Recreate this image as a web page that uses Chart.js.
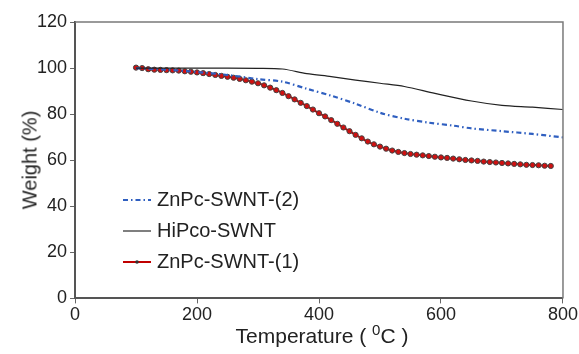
<!DOCTYPE html>
<html>
<head>
<meta charset="utf-8">
<script src="https://cdn.jsdelivr.net/npm/chart.js@4.4.1/dist/chart.umd.min.js"></script>
<style>
    html, body { margin: 0; padding: 0; background: #fff; }
    #wrap { position: relative; width: 579px; height: 354px; font-family: "Liberation Sans", Arial, sans-serif; color: #222; }
    #chart { position: absolute; left: 0; top: 0; }
    .legend { position: absolute; left: 122px; top: 184px; font-size: 20px; line-height: 31px; }
    .legend-item { display: flex; align-items: center; white-space: nowrap; }
    .legend-item canvas { margin-right: 5px; }
    .ytitle { position: absolute; left: 30px; top: 160px; font-size: 20px; transform: translate(-50%, -50%) rotate(-90deg); white-space: nowrap; }
    .xtitle { position: absolute; left: 322px; top: 334px; font-size: 21px; transform: translate(-50%, -50%); white-space: nowrap; }
    .xtitle sup { font-size: 15px; }
</style>
</head>
<body>
<div id="wrap">
    <canvas id="chart" width="579" height="354"></canvas>
    <div class="ytitle">Weight (%)</div>
    <div class="xtitle">Temperature ( <sup>0</sup>C )</div>
    <div class="legend" id="legend"></div>
</div>
<script>
// Axis ticks
const xTicks = [0, 200, 400, 600, 800];
const yTicks = [0, 20, 40, 60, 80, 100, 120];

// ZnPc-SWNT-(1): sampled every 10 C (markers)
const temp1 = [100, 110, 120, 130, 140, 150, 160, 170, 180, 190,
    200, 210, 220, 230, 240, 250, 260, 270, 280, 290,
    300, 310, 320, 330, 340, 350, 360, 370, 380, 390,
    400, 410, 420, 430, 440, 450, 460, 470, 480, 490,
    500, 510, 520, 530, 540, 550, 560, 570, 580, 590,
    600, 610, 620, 630, 640, 650, 660, 670, 680, 690,
    700, 710, 720, 730, 740, 750, 760, 770, 780];
const weight1 = [100.2, 100.0, 99.5, 99.3, 99.2, 99.1, 99.0, 98.9, 98.6, 98.4,
    98.1, 97.8, 97.4, 97.0, 96.6, 96.2, 95.8, 95.3, 94.7, 94.1,
    93.4, 92.5, 91.5, 90.4, 89.2, 87.8, 86.4, 84.9, 83.5, 82.0,
    80.4, 79.0, 77.4, 75.8, 74.2, 72.6, 71.0, 69.5, 68.1, 66.9,
    65.9, 65.0, 64.2, 63.6, 63.1, 62.7, 62.4, 62.1, 61.8, 61.5,
    61.2, 61.0, 60.7, 60.4, 60.1, 59.9, 59.7, 59.4, 59.2, 59.0,
    58.8, 58.6, 58.4, 58.2, 58.0, 57.9, 57.8, 57.6, 57.5];

// ZnPc-SWNT-(2)
const temp2 = [100, 150, 200, 250, 300, 340, 380, 420, 460, 500, 540, 580, 620, 650, 700, 750, 800];
const weight2 = [100.0, 99.3, 98.3, 97.0, 95.2, 94.1, 91.0, 88.0, 84.5, 80.6, 78.0, 76.3, 75.0, 73.8, 72.6, 71.4, 69.9];

// HiPco-SWNT
const tempH = [100, 200, 300, 340, 380, 420, 460, 500, 540, 590, 650, 700, 750, 800];
const weightH = [100.0, 100.0, 99.9, 99.6, 97.6, 96.3, 94.8, 93.4, 92.0, 89.0, 85.7, 83.8, 83.0, 82.0];

const seriesLabels = ['ZnPc-SWNT-(2)', 'HiPco-SWNT', 'ZnPc-SWNT-(1)'];

function toPoints(xs, ys) {
    return xs.map((x, i) => ({ x: x, y: ys[i] }));
}

// Frame around the plot area (top and right sides)
const framePlugin = {
    id: 'frame',
    afterDraw(chart) {
        const a = chart.chartArea;
        const ctx = chart.ctx;
        ctx.save();
        ctx.strokeStyle = '#7a7a7a';
        ctx.lineWidth = 1.5;
        ctx.beginPath();
        ctx.moveTo(a.left, a.top);
        ctx.lineTo(a.right, a.top);
        ctx.lineTo(a.right, a.bottom);
        ctx.stroke();
        ctx.restore();
    }
};

const tickFont = { family: '"Liberation Sans", Arial, sans-serif', size: 18 };

new Chart(document.getElementById('chart'), {
    type: 'line',
    data: {
        datasets: [
            {
                label: seriesLabels[1],
                data: toPoints(tempH, weightH),
                borderColor: '#222',
                borderWidth: 1.2,
                pointRadius: 0,
                tension: 0.3
            },
            {
                label: seriesLabels[0],
                data: toPoints(temp2, weight2),
                borderColor: '#2f5fc0',
                borderWidth: 2.2,
                borderDash: [5, 3, 1.5, 3],
                pointRadius: 0,
                tension: 0.3
            },
            {
                label: seriesLabels[2],
                data: toPoints(temp1, weight1),
                borderColor: '#c00000',
                borderWidth: 2,
                pointRadius: 2.6,
                pointBackgroundColor: '#d01010',
                pointBorderColor: '#444',
                pointBorderWidth: 1,
                tension: 0.2
            }
        ]
    },
    options: {
        responsive: false,
        animation: false,
        layout: { padding: { left: 34, right: 0, top: 22, bottom: 27 } },
        plugins: {
            legend: { display: false },
            tooltip: { enabled: false }
        },
        scales: {
            x: {
                type: 'linear',
                min: 0,
                max: 800,
                afterBuildTicks: (s) => { s.ticks = xTicks.map(v => ({ value: v })); },
                ticks: { color: '#222', font: tickFont, padding: 1, maxRotation: 0 },
                grid: { drawOnChartArea: false, drawTicks: true, tickLength: 5, color: '#666' },
                border: { display: true, color: '#555', width: 2 }
            },
            y: {
                min: 0,
                max: 120,
                afterBuildTicks: (s) => { s.ticks = yTicks.map(v => ({ value: v })); },
                ticks: { color: '#222', font: tickFont, padding: 3 },
                grid: { drawOnChartArea: false, drawTicks: true, tickLength: 5, color: '#666' },
                border: { display: true, color: '#555', width: 2 }
            }
        }
    },
    plugins: [framePlugin]
});

// Legend in the order of the reference
function buildLegend() {
    const legend = document.getElementById('legend');
    const styles = [
        { color: '#2f5fc0', width: 2.2, dash: [5, 3, 1.5, 3], marker: false },
        { color: '#555', width: 1.5, dash: [], marker: false },
        { color: '#c00000', width: 2, dash: [], marker: true }
    ];
    seriesLabels.forEach((label, i) => {
        const item = document.createElement('div');
        item.className = 'legend-item';
        const c = document.createElement('canvas');
        c.width = 30;
        c.height = 10;
        const ctx = c.getContext('2d');
        const st = styles[i];
        ctx.strokeStyle = st.color;
        ctx.lineWidth = st.width;
        ctx.setLineDash(st.dash);
        ctx.beginPath();
        ctx.moveTo(1, 5);
        ctx.lineTo(29, 5);
        ctx.stroke();
        if (st.marker) {
            ctx.setLineDash([]);
            ctx.fillStyle = '#333';
            ctx.beginPath();
            ctx.arc(15, 5, 1.8, 0, Math.PI * 2);
            ctx.fill();
        }
        item.appendChild(c);
        const span = document.createElement('span');
        span.textContent = label;
        item.appendChild(span);
        legend.appendChild(item);
    });
}
buildLegend();
</script>
</body>
</html>
